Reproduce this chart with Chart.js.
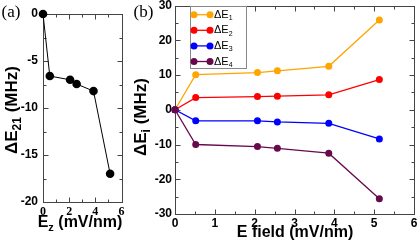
<!DOCTYPE html>
<html>
<head>
<meta charset="utf-8">
<script src="https://cdn.jsdelivr.net/npm/chart.js@4.4.0/dist/chart.umd.min.js"></script>
<style>
html,body{margin:0;padding:0;background:#fff;}
#wrap{position:relative;width:418px;height:245px;overflow:hidden;}
#ca{position:absolute;left:0;top:0;}
#cb{position:absolute;left:128px;top:0;}
</style>
</head>
<body>
<div id="wrap">
  <canvas id="ca" width="128" height="245"></canvas>
  <canvas id="cb" width="290" height="245"></canvas>
</div>
<script>
// panel (a)
const fieldA = [0, 0.52, 2.07, 2.57, 3.86, 5.13];
const dE21 = [0, -6.6, -7.0, -7.45, -8.2, -17.0];
const aXTicks = [0, 2, 4, 6];
const aXMinor = [1, 3, 5];
const aYTicks = [-20, -15, -10, -5, 0];
const aYMinor = [-17.5, -12.5, -7.5, -2.5];

// panel (b)
const fieldB = [0, 0.52, 2.07, 2.57, 3.86, 5.13];
const dE1 = [0, 10.1, 10.7, 11.2, 12.5, 25.8];
const dE2 = [0, 3.5, 3.8, 3.9, 4.3, 8.7];
const dE3 = [0, -3.2, -3.2, -3.5, -3.9, -8.4];
const dE4 = [0, -10.0, -10.6, -11.1, -12.5, -25.6];
const bNames = ['ΔE_{1}', 'ΔE_{2}', 'ΔE_{3}', 'ΔE_{4}'];
const bColors = ['#ffa500', '#ff0000', '#0000ff', '#670a4c'];
const bXTicks = [0, 1, 2, 3, 4, 5, 6];
const bXMinor = [0.5, 1.5, 2.5, 3.5, 4.5, 5.5];
const bYTicks = [-30, -20, -10, 0, 10, 20, 30];
const bYMinor = [-25, -15, -5, 5, 15, 25];

function pts(xs, ys){ return xs.map((x, i) => ({x: x, y: ys[i]})); }

function parseRich(str){
  const parts = str.split(/_\{([^}]*)\}/);
  return parts.map((t, i) => ({t: t, sub: i % 2 === 1})).filter(s => s.t.length);
}

function richText(ctx, str, cx, cy, size, weight, family, rot, align){
  const segs = parseRich(str);
  const sub = Math.round(size * 0.68);
  ctx.save();
  ctx.translate(cx, cy);
  if(rot) ctx.rotate(rot);
  let w = 0;
  segs.forEach(s => {
    ctx.font = weight + ' ' + (s.sub ? sub : size) + 'px ' + family;
    s.w = ctx.measureText(s.t).width;
    w += s.w;
  });
  let x = align === 'left' ? 0 : -w / 2;
  ctx.textBaseline = 'middle';
  ctx.textAlign = 'left';
  ctx.fillStyle = '#000';
  segs.forEach(s => {
    ctx.font = weight + ' ' + (s.sub ? sub : size) + 'px ' + family;
    ctx.fillText(s.t, x, s.sub ? size * 0.32 : 0);
    x += s.w;
  });
  ctx.restore();
}

// frame with inward ticks on all four sides
const framePlugin = {
  id: 'frame',
  beforeDatasetsDraw(chart, args, o){
    const ctx = chart.ctx, a = chart.chartArea, x = chart.scales.x, y = chart.scales.y;
    ctx.save();
    ctx.strokeStyle = '#444';
    ctx.lineWidth = 1;
    const L = Math.round(a.left) + 0.5, R = Math.round(a.right) + 0.5;
    const T = Math.round(a.top) + 0.5, B = Math.round(a.bottom) + 0.5;
    ctx.strokeRect(L, T, R - L, B - T);
    ctx.beginPath();
    const tx = (v, len) => {
      const p = Math.round(x.getPixelForValue(v)) + 0.5;
      ctx.moveTo(p, B); ctx.lineTo(p, B - len);
      ctx.moveTo(p, T); ctx.lineTo(p, T + len);
    };
    const ty = (v, len) => {
      const p = Math.round(y.getPixelForValue(v)) + 0.5;
      ctx.moveTo(L, p); ctx.lineTo(L + len, p);
      ctx.moveTo(R, p); ctx.lineTo(R - len, p);
    };
    o.xMajor.forEach(v => tx(v, 5));
    o.xMinor.forEach(v => tx(v, 3));
    o.yMajor.forEach(v => ty(v, 5));
    o.yMinor.forEach(v => ty(v, 3));
    ctx.stroke();
    ctx.restore();
  }
};

const notesPlugin = {
  id: 'notes',
  afterDraw(chart, args, o){
    const ctx = chart.ctx;
    (o.texts || []).forEach(t => richText(ctx, t.s, t.x, t.y, t.size, t.weight, t.family, t.rot || 0, t.align));
    if(o.legend){
      const g = o.legend;
      ctx.save();
      ctx.fillStyle = '#fff';
      ctx.fillRect(g.x, g.y, g.w, g.h);
      ctx.strokeStyle = '#888';
      ctx.lineWidth = 1;
      ctx.strokeRect(g.x + 0.5, g.y + 0.5, g.w, g.h);
      chart.data.datasets.forEach((ds, i) => {
        const ry = g.y + g.row0 + i * g.step;
        ctx.strokeStyle = ds.borderColor;
        ctx.lineWidth = 1.3;
        ctx.beginPath();
        ctx.moveTo(g.x + 4, ry); ctx.lineTo(g.x + 20, ry);
        ctx.stroke();
        ctx.fillStyle = ds.borderColor;
        [g.x + 4, g.x + 20].forEach(px => {
          ctx.beginPath(); ctx.arc(px, ry, 3.5, 0, Math.PI * 2); ctx.fill();
        });
        richText(ctx, ds.label, g.x + 24, ry, 11, 'normal', '"Liberation Sans", Arial, sans-serif', 0, 'left');
      });
      ctx.restore();
    }
  }
};

function axis(ticksArr, font, pad, fitFn){
  return {
    type: 'linear',
    min: ticksArr[0],
    max: ticksArr[ticksArr.length - 1],
    grid: {display: false, drawTicks: false},
    border: {display: false},
    ticks: {font: font, color: '#000', padding: pad, maxRotation: 0, autoSkip: false},
    afterBuildTicks: s => { s.ticks = ticksArr.map(v => ({value: v})); },
    afterFit: fitFn
  };
}

const sansBold = {family: '"Liberation Sans", Arial, sans-serif', weight: 'bold', size: 12};
const serifBold = {family: '"Liberation Serif", "Times New Roman", serif', weight: 'bold', size: 12};

new Chart(document.getElementById('ca'), {
  type: 'line',
  data: {
    datasets: [{
      data: pts(fieldA, dE21),
      borderColor: '#000',
      backgroundColor: '#000',
      borderWidth: 1,
      pointRadius: 4.3,
      pointBorderWidth: 0,
      tension: 0,
      clip: false
    }]
  },
  options: {
    responsive: false,
    animation: false,
    devicePixelRatio: 1,
    layout: {padding: {left: 0, top: 14, right: 6.5, bottom: 0}},
    plugins: {
      legend: {display: false},
      tooltip: {enabled: false},
      frame: {xMajor: aXTicks, xMinor: aXMinor, yMajor: aYTicks, yMinor: aYMinor},
      notes: {texts: [
        {s: '(a)', x: 11, y: 13, size: 17, weight: 'normal', family: '"Liberation Serif", serif'},
        {s: 'ΔE_{21} (MHz)', x: 12, y: 110, size: 17, weight: 'bold', family: '"Liberation Sans", sans-serif', rot: -Math.PI / 2},
        {s: 'E_{z} (mV/nm)', x: 80, y: 223, size: 16, weight: 'bold', family: '"Liberation Sans", sans-serif'}
      ]}
    },
    scales: {
      x: axis(aXTicks, serifBold, 3, s => { s.height = 43; s.paddingLeft = 0; s.paddingRight = 0; }),
      y: axis(aYTicks, sansBold, 5, s => { s.width = 43; s.paddingTop = 0; s.paddingBottom = 0; })
    }
  },
  plugins: [framePlugin, notesPlugin]
});

const bSeries = [dE1, dE2, dE3, dE4];

new Chart(document.getElementById('cb'), {
  type: 'line',
  data: {
    datasets: bSeries.map((ys, i) => ({
      label: bNames[i],
      data: pts(fieldB, ys),
      borderColor: bColors[i],
      backgroundColor: bColors[i],
      borderWidth: 1.3,
      pointRadius: 3.5,
      pointBorderWidth: 0,
      tension: 0,
      clip: false,
      order: bSeries.length - i
    }))
  },
  options: {
    responsive: false,
    animation: false,
    devicePixelRatio: 1,
    layout: {padding: {left: 0, top: 5.5, right: 3, bottom: 0}},
    plugins: {
      legend: {display: false},
      tooltip: {enabled: false},
      frame: {xMajor: bXTicks, xMinor: bXMinor, yMajor: bYTicks, yMinor: bYMinor},
      notes: {
        texts: [
          {s: '(b)', x: 15.5, y: 13, size: 17, weight: 'normal', family: '"Liberation Serif", serif'},
          {s: 'ΔE_{i} (MHz)', x: 13.7, y: 117, size: 17, weight: 'bold', family: '"Liberation Sans", sans-serif', rot: -Math.PI / 2},
          {s: 'E field (mV/nm)', x: 167, y: 233, size: 16, weight: 'bold', family: '"Liberation Sans", sans-serif'}
        ],
        legend: {x: 62, y: 6, w: 56, h: 62, row0: 8.7, step: 15.6}
      }
    },
    scales: {
      x: axis(bXTicks, sansBold, 2, s => { s.height = 31; s.paddingLeft = 0; s.paddingRight = 0; }),
      y: axis(bYTicks, sansBold, 3, s => { s.width = 47; s.paddingTop = 0; s.paddingBottom = 0; })
    }
  },
  plugins: [framePlugin, notesPlugin]
});
</script>
</body>
</html>
